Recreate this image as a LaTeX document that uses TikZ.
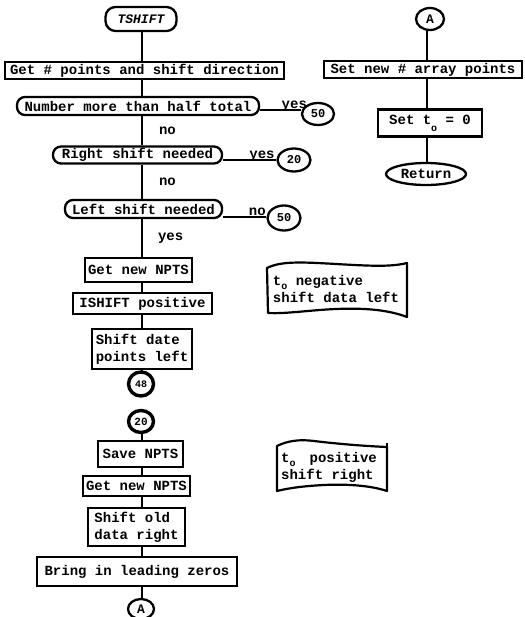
\documentclass[tikz,border=0pt]{standalone}
\usepackage{fontspec}
\setmonofont{Liberation Mono}
\usetikzlibrary{shapes.geometric,calc}
% lowered "o" used for the subscript in t_o
\newcommand\lowo[1][-7pt]{\raisebox{#1}{\fontsize{10}{10}\selectfont o}}
\begin{document}
\begin{tikzpicture}[x=1pt,y=-1pt,
  every node/.style={font=\ttfamily\bfseries\fontsize{14}{17}\selectfont, inner sep=0pt},
  proc/.style={draw, line width=2.3pt, rectangle},
  decision/.style={draw, line width=2.3pt, rounded corners=8pt},
  term/.style={draw, line width=2.3pt, rounded corners=10pt},
  conn/.style={draw, ellipse, line width=2.3pt, inner sep=0pt},
  heavyconn/.style={conn, line width=3.4pt},
  link/.style={line width=2pt},
  frame/.style={line width=2.2pt, line join=round}]
\useasboundingbox (0,0) rectangle (524,617);

% spines of the two columns
\coordinate (spine) at (142,0);
\coordinate (spineR) at (427,0);

% ---- main column ----
\node[term, minimum width=71, minimum height=24,
      font=\ttfamily\bfseries\itshape\fontsize{13}{15}\selectfont] (tshift) at (141,19) {TSHIFT};
\node[proc, minimum width=279, minimum height=17] (getpts) at (144.5,70.5) {Get \# points and shift direction};
\node[decision, minimum width=242, minimum height=18] (half) at (138,106) {Number more than half total};
\node[decision, minimum width=169, minimum height=17] (rshift) at (137.5,155) {Right shift needed};
\node[decision, minimum width=157, minimum height=18] (lshift) at (143.5,209) {Left shift needed};
\node[proc, minimum width=107, minimum height=24] (npts1) at (138.5,270) {Get new NPTS};
\node[proc, minimum width=139, minimum height=21] (ishift) at (142.5,303.5) {ISHIFT positive};
\node[proc, minimum width=100, minimum height=40, align=left] (sleft) at (142,349) {Shift date\\points left};
\node[heavyconn, minimum width=25, minimum height=24,
      font=\ttfamily\bfseries\fontsize{10}{10}\selectfont] (c48) at (141,384) {48};
\node[heavyconn, minimum width=25, minimum height=22,
      font=\ttfamily\bfseries\fontsize{11}{11}\selectfont] (c20b) at (141,421.5) {20};
\node[proc, minimum width=85, minimum height=26] (save) at (140.5,454) {Save NPTS};
\node[proc, minimum width=107, minimum height=20] (npts2) at (136.5,486) {Get new NPTS};
\node[proc, minimum width=97, minimum height=38, align=left] (sright) at (136.5,527) {Shift old\\data right};
\node[proc, minimum width=200, minimum height=29] (zeros) at (137,571.5) {Bring in leading zeros};
\node[conn, minimum width=26, minimum height=20,
      font=\ttfamily\bfseries\fontsize{13}{13}\selectfont] (abot) at (141,609) {A};

% off-page connectors to the right of the decisions
\node[conn, minimum width=32, minimum height=22,
      font=\ttfamily\bfseries\fontsize{12}{12}\selectfont] (c50a) at (318,114) {50};
\node[conn, minimum width=33, minimum height=23,
      font=\ttfamily\bfseries\fontsize{12}{12}\selectfont] (c20a) at (294,160) {20};
\node[conn, minimum width=33, minimum height=25,
      font=\ttfamily\bfseries\fontsize{12}{12}\selectfont] (c50b) at (284,218) {50};

% ---- right column ----
\node[conn, minimum width=28, minimum height=22,
      font=\ttfamily\bfseries\fontsize{13}{13}\selectfont] (atop) at (430,19) {A};
\node[proc, minimum width=198, minimum height=17] (setpts) at (423,69.5) {Set new \# array points};
\node[proc, minimum width=104, minimum height=27] (sett0) at (430,123) {Set t\lowo{} = 0};
\node[conn, minimum width=80, minimum height=22] (ret) at (426,174) {Return};

% ---- annotations ----
\node[align=left] (neg) at (336,289) {t\lowo[-4pt]{} negative\\shift data left};
\node[align=left] (pos) at (329,467) {t\lowo[-4pt]{}\hspace{14pt}positive\\shift right};

\begin{scope}[shift={(neg.center)}]
  \draw[frame] (-69,-21) .. controls (-55,-28) and (-35,-27) .. (0,-25)
     .. controls (35,-23) and (55,-22) .. (71,-26) -- (71,28)
     .. controls (50,20) and (25,19) .. (0,20)
     .. controls (-25,21) and (-50,25) .. (-68,24) -- cycle;
\end{scope}
\begin{scope}[shift={(pos.center)}]
  \draw[frame] (-52,-21) .. controls (-42,-26) and (-30,-28) .. (-15,-26)
     .. controls (10,-23) and (35,-21) .. (58,-20) -- (58,24)
     .. controls (40,18) and (15,17) .. (-5,18)
     .. controls (-25,19) and (-40,21) .. (-52,24) -- cycle;
  \draw[frame] (58,-20) -- (58,-24);
\end{scope}

% ---- main column links ----
\draw[link] (tshift.south -| spine) -- (getpts.north -| spine);
\draw[link] (getpts.south -| spine) -- (half.north -| spine);
\draw[link] (half.south -| spine) -- node[right=16pt]{no} (rshift.north -| spine);
\draw[link] (rshift.south -| spine) -- node[right=16pt]{no} (lshift.north -| spine);
\draw[link] (lshift.south -| spine) -- node[right=15pt]{yes} (npts1.north -| spine);
\draw[link] (npts1.south -| spine) -- (ishift.north -| spine);
\draw[link] (ishift.south -| spine) -- (sleft.north -| spine);
\draw[link] (sleft.south -| spine) -- (c48.north -| spine);
\draw[link] (c20b.south -| spine) -- (save.north -| spine);
\draw[link] (save.south -| spine) -- (npts2.north -| spine);
\draw[link] (npts2.south -| spine) -- (sright.north -| spine);
\draw[link] (sright.south -| spine) -- (zeros.north -| spine);
\draw[link] (zeros.south -| spine) -- (abot.north -| spine);

% ---- decision branches ----
\draw[link] ([yshift=-4pt]half.east) -- node[anchor=base, pos=0.84, yshift=1pt]{yes}
  ([yshift=-4pt]half.east -| c50a.west);
\draw[link] ([yshift=-5pt]rshift.east) -- node[anchor=base, pos=0.73, yshift=1pt]{yes}
  ([yshift=-5pt]rshift.east -| c20a.west);
\draw[link] ([yshift=-8pt]lshift.east) -- node[anchor=base, pos=0.79, yshift=1pt]{no}
  ([yshift=-8pt]lshift.east -| c50b.west);

% ---- right column links ----
\draw[link] (atop.south -| spineR) -- (setpts.north -| spineR);
\draw[link] (setpts.south -| spineR) -- (sett0.north -| spineR);
\draw[link] (sett0.south -| spineR) -- (ret.north -| spineR);
\end{tikzpicture}
\end{document}
